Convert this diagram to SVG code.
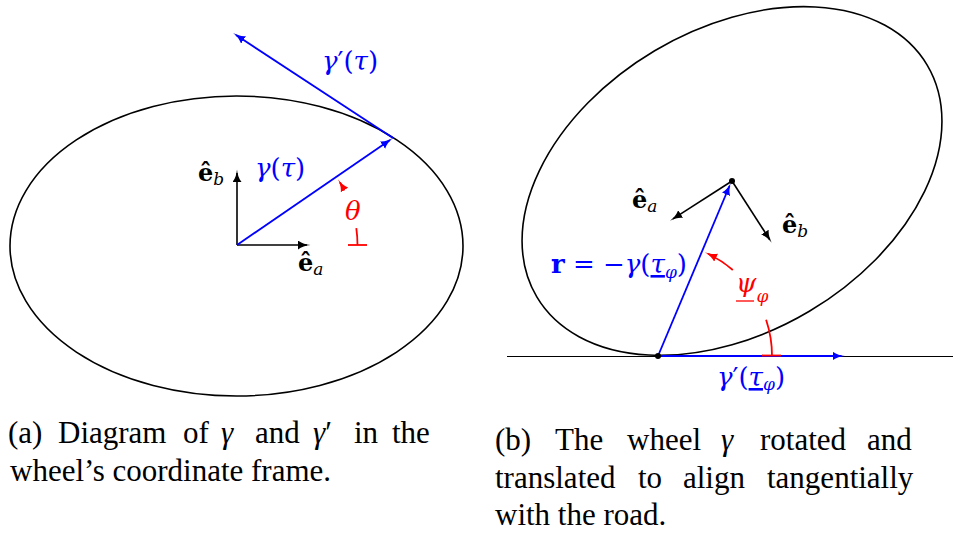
<svg xmlns="http://www.w3.org/2000/svg" width="953" height="537" viewBox="0 0 953 537">
<style>
.bg{fill:#ffffff}
.wheel{fill:none;stroke:#000;stroke-width:1.6}
.road{fill:none;stroke:#000;stroke-width:1.2}
.blk{fill:none;stroke:#000;stroke-width:1.6}
.blu{fill:none;stroke:#0000ff;stroke-width:1.8}
.rd{fill:none;stroke:#ff0000;stroke-width:1.8}
.dot{fill:#000}
text{font-family:"Liberation Serif","Times New Roman",serif}
.m{font-family:"DejaVu Serif",serif;font-size:24px}
.g{font-size:26px}
.cap{font-size:31px;fill:#000}
.i{font-style:italic}
.b{font-weight:bold}
.sub{font-size:17px;font-style:italic}
.cb{fill:#0000ff}
.cr{fill:#ff0000}
.ck{fill:#000}
.ul{text-decoration:underline}
</style>
<defs>
<marker id="ab" viewBox="0 0 13 9" refX="9" refY="4.5" markerWidth="13" markerHeight="9" markerUnits="userSpaceOnUse" orient="auto"><path d="M0,0 C3.5,2.8 7.5,4 12.5,4.5 C7.5,5 3.5,6.2 0,9 Z" fill="#0000ff"/></marker>
<marker id="ak" viewBox="0 0 13 9" refX="9" refY="4.5" markerWidth="13" markerHeight="9" markerUnits="userSpaceOnUse" orient="auto"><path d="M0,0 C3.5,2.8 7.5,4 12.5,4.5 C7.5,5 3.5,6.2 0,9 Z" fill="#000"/></marker>
<marker id="ar" viewBox="0 0 13 9" refX="9" refY="4.5" markerWidth="13" markerHeight="9" markerUnits="userSpaceOnUse" orient="auto"><path d="M0,0 C3.5,2.8 7.5,4 12.5,4.5 C7.5,5 3.5,6.2 0,9 Z" fill="#ff0000"/></marker>
</defs>
<rect class="bg" x="0" y="0" width="953" height="537"/>

<g id="wheel-a">
<ellipse class="wheel" cx="236.5" cy="246" rx="226.5" ry="150"/>
</g>
<g id="wheel-b">
<ellipse class="wheel" cx="0" cy="0" rx="227" ry="151.5" transform="translate(732 181) rotate(-30.7)"/>
</g>
<g id="road">
<line class="road" x1="507" y1="356.5" x2="953" y2="356.5"/>
</g>

<g id="connectors">
<line class="blk" x1="237" y1="245" x2="237" y2="173" marker-end="url(#ak)"/>
<line class="blk" x1="237" y1="245" x2="307" y2="245" marker-end="url(#ak)"/>
<line class="blu" x1="237" y1="245" x2="390" y2="140" marker-end="url(#ab)"/>
<line class="blu" x1="393" y1="138" x2="236" y2="35" marker-end="url(#ab)"/>
<path class="rd" d="M357.5,245 A120.5,120.5 0 0 0 356.3,228.2"/>
<line class="rd" x1="348" y1="245" x2="367" y2="245"/>
<path class="rd" d="M344.4,190.3 A120.5,120.5 0 0 0 339.8,182.3" marker-end="url(#ar)"/>

<line class="blu" x1="658" y1="356" x2="729.5" y2="186" marker-end="url(#ab)"/>
<line class="blk" x1="732" y1="181" x2="673" y2="218.8" marker-end="url(#ak)"/>
<line class="blk" x1="732" y1="181" x2="769.8" y2="239.7" marker-end="url(#ak)"/>
<line class="blu" x1="658" y1="356" x2="841.5" y2="356" marker-end="url(#ab)"/>
<path class="rd" d="M772,356 A114,114 0 0 0 766.1,319.8"/>
<line class="rd" x1="762" y1="355.5" x2="781" y2="355.5"/>
<path class="rd" d="M732.8,270 A114,114 0 0 0 708,253.8" marker-end="url(#ar)"/>
</g>

<g id="dots">
<circle class="dot" cx="658" cy="356" r="3"/>
<circle class="dot" cx="732" cy="181" r="3"/>
</g>

<g id="labels-a">
<text class="m g cb" x="322" y="70"><tspan class="i">γ</tspan>′(<tspan class="i">τ</tspan>)</text>
<text class="m g cb" x="255" y="177"><tspan class="i">γ</tspan>(<tspan class="i">τ</tspan>)</text>
<text class="m ck" x="198" y="181"><tspan class="b">ê</tspan><tspan class="sub" dy="4">b</tspan></text>
<text class="m ck" x="298" y="271"><tspan class="b">ê</tspan><tspan class="sub" dy="4">a</tspan></text>
<text class="m g cr i" x="345" y="220">θ</text>
</g>

<g id="labels-b">
<text class="m ck" x="632" y="208"><tspan class="b">ê</tspan><tspan class="sub" dy="4">a</tspan></text>
<text class="m ck" x="782" y="233"><tspan class="b">ê</tspan><tspan class="sub" dy="4">b</tspan></text>
<text class="m g cb" x="551" y="273"><tspan class="b">r</tspan> = −<tspan class="i">γ</tspan>(<tspan class="i ul">τ</tspan><tspan class="sub" dy="5">φ</tspan><tspan dy="-5">)</tspan></text>
<text class="m g cr" x="736" y="292"><tspan class="i">ψ</tspan><tspan class="sub" dy="10">φ</tspan></text>
<line x1="736" y1="301" x2="754" y2="301" stroke="#ff0000" stroke-width="1.3"/>
<text class="m g cb" x="717" y="386"><tspan class="i">γ</tspan>′(<tspan class="i ul">τ</tspan><tspan class="sub" dy="4">φ</tspan><tspan dy="-4">)</tspan></text>
</g>

<g id="caption-a">
<text class="cap" y="443"><tspan x="8">(a)</tspan><tspan x="58">Diagram</tspan><tspan x="183">of</tspan><tspan x="221" class="i">γ</tspan><tspan x="255">and</tspan><tspan x="313" class="i">γ</tspan><tspan>′</tspan><tspan x="354">in</tspan><tspan x="392">the</tspan></text>
<text class="cap" x="10" y="480.5">wheel’s coordinate frame.</text>
</g>
<g id="caption-b">
<text class="cap" y="450"><tspan x="495">(b)</tspan><tspan x="555">The</tspan><tspan x="627">wheel</tspan><tspan x="721" class="i">γ</tspan><tspan x="760">rotated</tspan><tspan x="867">and</tspan></text>
<text class="cap" y="487.5"><tspan x="495">translated</tspan><tspan x="638">to</tspan><tspan x="683">align</tspan><tspan x="767">tangentially</tspan></text>
<text class="cap" x="495" y="525">with the road.</text>
</g>
</svg>
